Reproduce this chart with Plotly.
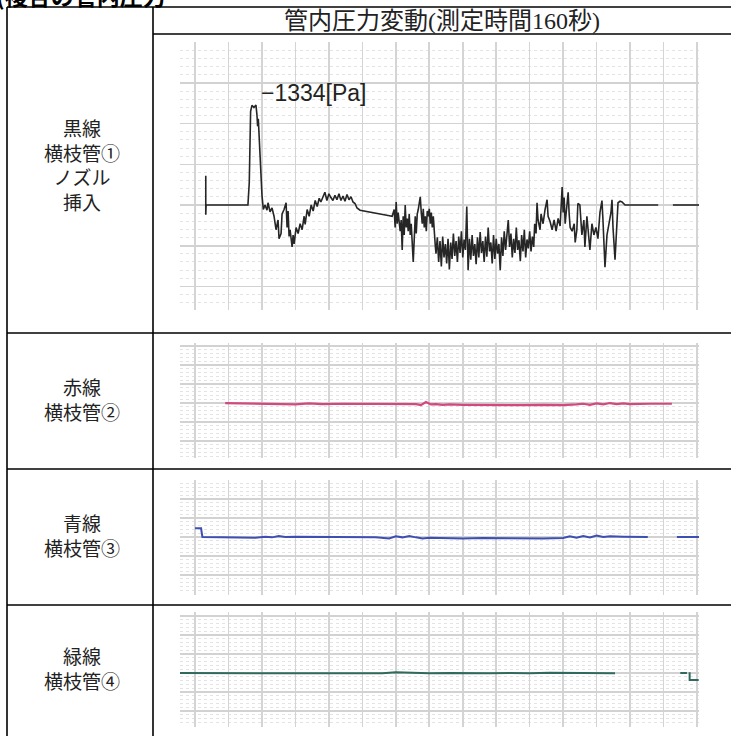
import plotly.graph_objects as go

W, H = 731, 736

# ---------------- data (t in s, 10 s per grid division; p in Pa, positive = down) -------------
black_t = [3.2, 3.2, 3.3, 15.8, 16.2, 16.6, 17.0, 17.6, 18.2, 18.5, 18.7, 18.9, 19.2, 19.6, 20.0, 20.4,
           20.9, 21.5, 21.8, 22.4, 23.0, 23.6, 24.2, 24.8, 25.1, 25.7, 26.0, 26.6, 27.2, 27.5, 27.8, 28.1,
           28.4, 29.0, 29.3, 29.6, 30.2, 30.8, 31.4, 32.0, 32.6, 32.9, 33.5, 34.1, 34.7, 35.3, 35.9, 36.5,
           37.1, 37.6, 38.2, 38.8, 39.4, 40.0, 40.6, 41.2, 41.8, 42.4, 43.0, 43.6, 44.2, 44.8, 45.4, 46.0,
           46.6, 47.2, 47.8, 48.4, 49.3, 50.5, 51.7, 52.9, 54.1, 55.3, 56.5, 57.7, 58.9,
           59.5, 59.8, 60.1, 60.4, 60.7, 61.3, 61.6, 61.9, 62.2, 62.5, 62.8, 63.1, 63.4, 63.7, 64.0, 64.3,
           64.6, 65.2, 65.5, 65.8, 66.1, 66.4, 66.7, 67.0, 67.3, 67.6, 67.9, 68.2, 68.5, 68.8, 69.1, 69.4,
           69.7, 70.0, 70.3, 70.6, 70.9, 71.2, 71.5, 71.8,
           72.0, 72.4, 72.8, 73.2, 73.6, 74.0, 74.4, 74.8, 75.2, 75.6, 76.0, 76.4, 76.8, 77.2, 77.6, 78.0,
           78.4, 78.8, 79.2, 79.6, 80.0, 80.4, 80.8, 81.2, 81.6, 82.0, 82.4, 82.8, 83.2, 83.6, 84.0, 84.4,
           84.8, 85.2, 85.6, 86.0, 86.4, 86.8, 87.2, 87.6, 88.0, 88.4, 88.8, 89.2, 89.6, 90.0, 90.4, 90.8,
           91.2, 91.6, 92.0, 92.4, 92.8, 93.2, 93.6, 94.0, 94.4, 94.8, 95.2, 95.6, 96.0, 96.4, 96.8, 97.2,
           97.6, 98.0, 98.4, 98.8, 99.2, 99.6, 100.0, 100.4, 100.8, 101.2,
           101.5, 101.9, 102.2, 102.5, 103.1, 103.4, 104.0, 104.6, 105.2, 105.5, 106.1, 106.7, 107.3, 107.9,
           108.5, 109.1, 109.7, 110.0, 110.3, 110.6, 110.9, 111.2, 111.5, 111.8, 112.1, 112.7, 113.3, 113.6,
           114.1, 114.4, 115.0, 115.6, 116.2, 116.5, 117.1, 117.4, 118.0, 118.6, 119.2, 119.8, 120.4, 121.0,
           121.6, 121.9, 122.5, 123.1, 123.7, 124.3, 124.6, 124.9, 125.5, 126.1, 126.4, 127.0, 127.6, 128.5,
           138.4, None, 142.8, 150.9]
black_p = [-390, 130, 0, 0, -300, -1250, -1330, -1300, -1334, -1200, -1050, -1150, -800, -450, -130, 60,
           0, 70, -30, 90, 40, 150, 330, 200, 450, 380, 120, 60, -30, 300, 80, 420,
           330, 560, 400, 520, 300, 380, 250, 330, 150, 260, 60, 150, 0, 80, -60, 20,
           -90, -40, -110, -170, -60, -150, -100, -60, -130, -70, -150, -60, -120, -50, -140, -70,
           -110, -40, -20, 40, 70, 80, 100, 110, 110, 120, 130, 140, 150,
           60, 300, -40, 250, 100, 350, 200, 600, 150, 400, 0, 300, 180, 350, 120, 400,
           250, 760, 300, 150, 380, 120, 60, -40, -110, 100, 250, 50, 300, 150, 350, 80,
           150, 50, 250, 100, 300, 150, 450, 550,
           650, 430, 760, 480, 820, 420, 700, 520, 780, 450, 860, 500, 720, 380, 680, 480,
           760, 420, 640, 350, 700, 460, 600, 20, 870, 450, 730, 400, 680, 520, 790, 430,
           700, 360, 640, 480, 760, 420, 690, 300, 620, 500, 780, 400, 720, 450, 650, 520,
           870, 430, 680, 350, 600, 420, 200, 560, 380, 700, 450, 640, 300, 600, 470, 750,
           400, 620, 330, 700, 460, 580, 350, 620, 420, 560,
           250, 380, -30, 200, 330, 120, 250, 60, -70, 150, 220, 330, 200, 350,
           180, 280, -240, 100, -100, 250, 80, -60, -170, 120, 300, 350, 250, 500,
           330, -20, 0, 400, 200, 560, 150, 300, 600, 250, 400, 300, 450, 100,
           -60, 200, 830, 400, 250, 100, -70, 300, 730, 200, -30, -50, -40, 0,
           0, None, 0, 0]

red_t = [9, 14, 20, 26, 30, 34, 38, 44, 50, 56, 62, 66, 67.5, 69, 70.5, 72, 74, 76, 80, 86, 92, 98,
         104, 110, 114, 116, 118, 120, 122, 124, 126, 128, 130, 132, 136, 142.5]
red_p = [0, 10, 20, 20, 40, 10, 30, 20, 20, 10, 20, 30, 60, -30, 40, 30, 50, 40, 50, 60, 50, 60,
         50, 60, 40, 20, 50, 10, 40, 0, 30, 10, 30, 20, 20, 20]

blue_t = [0, 1.8, 2.0, 2.2, 8, 14, 18, 21, 23, 25, 27, 30, 36, 42, 48, 54, 58, 60, 62, 64, 66, 68, 70,
          74, 80, 86, 92, 98, 104, 110, 112, 114, 116, 118, 120, 122, 124, 128, 132, 135.3, None, 144, 150.6]
blue_p = [-250, -250, -120, 0, 10, 10, 20, -10, 10, -30, 0, -10, -10, 0, 0, 10, 40, -20, 10, -30, 10, 40, 20,
          30, 40, 30, 40, 30, 40, 30, -20, 20, -30, 10, -40, 0, -20, -10, 0, 0, None, 0, 0]

green_t = [-4.5, 5, 15, 25, 35, 45, 52, 56, 60, 65, 70, 76, 82, 88, 94, 100, 106, 112, 118, 125.5,
           None, 145.0, 147.0, None, 147.8, 147.8, 150.5]
green_p = [0, 0, -10, -10, -10, -10, 0, 10, -20, -10, 10, 0, 10, 10, 0, 10, -10, 0, 10, 10,
           None, 0, 0, None, -20, 200, 200]

header_text = "管内圧力変動(測定時間160秒)"
title_text = "(複合の管内圧力"
row_labels = ["黒線<br>横枝管①<br>ノズル<br>挿入", "赤線<br>横枝管②", "青線<br>横枝管③", "緑線<br>横枝管④"]
peak_label = "−1334[Pa]"

# ---------------- layout helpers ----------------
def fx(px):
    return px / W

def fy(py):
    return 1 - py / H

DIV = 543  # Pa per major grid division
series = [
    (black_t, black_p, "#262626", 1.6, (42, 310), [1401, -2175]),
    (red_t, red_p, "#d3487f", 2.2, (343, 458), [1571, -1716]),
    (blue_t, blue_p, "#3d4fb3", 2.0, (480, 595), [1657, -1629]),
    (green_t, green_p, "#2f6a5c", 2.0, (612, 727), [1543, -1743]),
]

fig = go.Figure()
layout = dict(
    width=W, height=H, margin=dict(l=0, r=0, t=0, b=0),
    paper_bgcolor="white", plot_bgcolor="white", showlegend=False, hovermode=False,
)
for i, (t, p, col, lw, (ytop, ybot), yr) in enumerate(series, start=1):
    sfx = "" if i == 1 else str(i)
    fig.add_trace(go.Scatter(x=t, y=p, mode="lines", line=dict(color=col, width=lw),
                             xaxis="x" + sfx, yaxis="y" + sfx, connectgaps=False))
    layout["xaxis" + sfx] = dict(
        domain=[fx(180), fx(699)], range=[-4.5, 150.6], anchor="y" + sfx,
        tick0=0, dtick=10, showgrid=True, gridcolor="#d4d4d4", gridwidth=1.6,
        showticklabels=False, ticks="", zeroline=False, showline=False, fixedrange=True)
    layout["yaxis" + sfx] = dict(
        domain=[fy(ybot), fy(ytop)], range=yr, anchor="x" + sfx,
        tick0=0, dtick=DIV, showgrid=True, gridcolor="#d2d2d2", gridwidth=1.6,
        minor=dict(tick0=0, dtick=DIV / 5, showgrid=True, gridcolor="#e3e3e3",
                   griddash="dot", gridwidth=1),
        showticklabels=False, ticks="", zeroline=False, showline=False, fixedrange=True)

# table lines
lc = dict(color="black", width=1.6)
shapes = []
def hline(py, x0, x1):
    shapes.append(dict(type="line", xref="paper", yref="paper", x0=fx(x0), x1=fx(x1),
                       y0=fy(py), y1=fy(py), line=lc))
def vline(px, y0, y1):
    shapes.append(dict(type="line", xref="paper", yref="paper", x0=fx(px), x1=fx(px),
                       y0=fy(y0), y1=fy(y1), line=lc))
hline(7, 7, 731)
hline(34, 153, 731)
for yy in (333, 469, 605):
    hline(yy, 7, 731)
vline(7, 7, 736)
vline(153, 7, 736)
layout["shapes"] = shapes

cjk = "Liberation Serif, Noto Sans CJK JP"
ann = []
ann.append(dict(text="<b>" + title_text + "</b>", xref="paper", yref="paper", x=fx(-6), y=fy(-5),
                xanchor="left", yanchor="middle", showarrow=False,
                font=dict(family="Noto Sans CJK JP", size=23, color="black")))
ann.append(dict(text=header_text, xref="paper", yref="paper", x=fx(442), y=fy(21),
                xanchor="center", yanchor="middle", showarrow=False,
                font=dict(family=cjk, size=24, color="#222")))
for lab, cy in zip(row_labels, [166, 401, 537, 670]):
    ann.append(dict(text=lab, xref="paper", yref="paper", x=fx(82), y=fy(cy),
                    xanchor="center", yanchor="middle", showarrow=False,
                    font=dict(family=cjk, size=19, color="#222")))
ann.append(dict(text=peak_label, xref="x", yref="y", x=19.0, y=-1494, xanchor="left",
                yanchor="middle", showarrow=False,
                font=dict(family="Liberation Sans, Noto Sans CJK JP", size=23, color="#222")))
layout["annotations"] = ann

fig.update_layout(**layout)
fig.write_html("out.html", config={"displayModeBar": False, "staticPlot": True},
               post_script="document.body.style.margin='0';document.body.style.overflow='hidden';")
